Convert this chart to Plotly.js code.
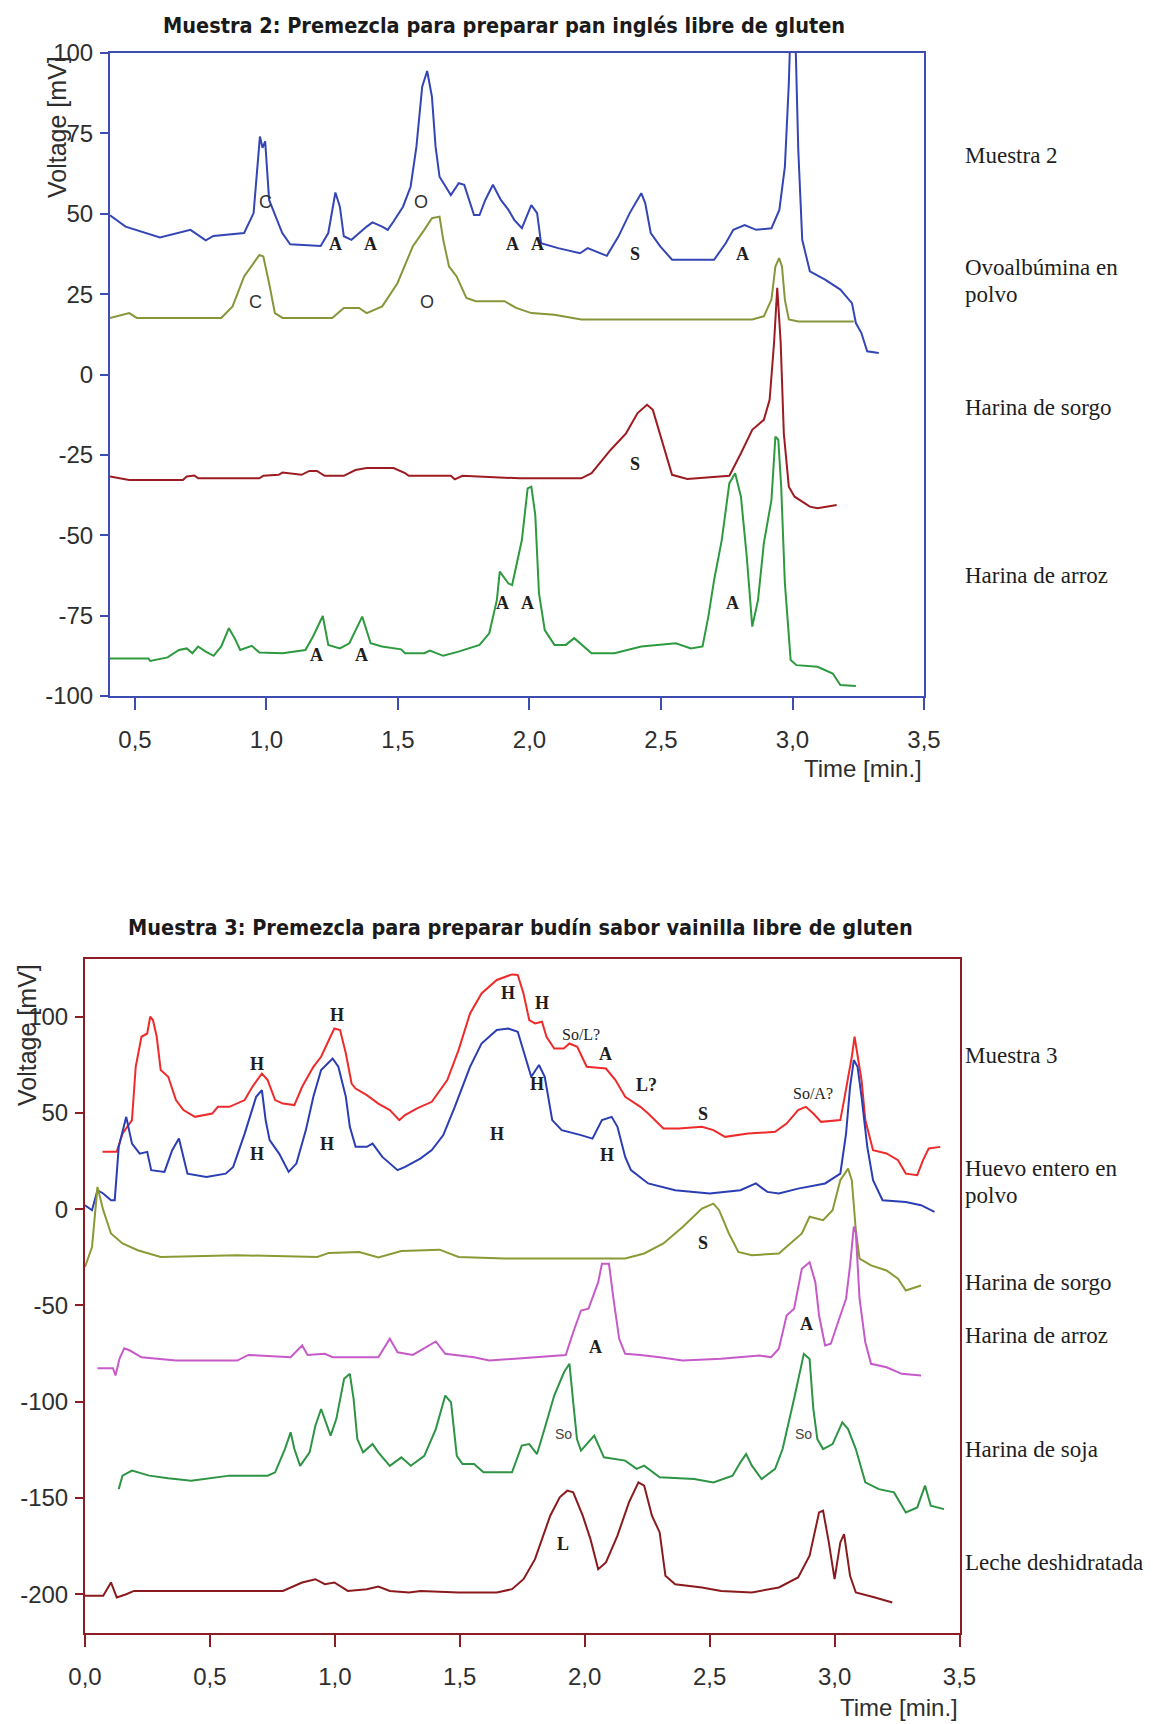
<!DOCTYPE html>
<html><head><meta charset="utf-8">
<script src="https://cdn.plot.ly/plotly-3.0.1.min.js"></script>
<style>html,body{margin:0;padding:0;background:#fff;} #chart{width:1153px;height:1724px;}</style>
</head><body><div id="chart"></div>
<script>
// ---------- Chart 1 data: Muestra 2 ----------
const m2Time = [0.405,0.464,0.595,0.667,0.711,0.769,0.798,0.915,0.951,0.975,
0.985,0.995,1.010,1.060,1.090,1.206,1.235,1.262,1.279,1.294,
1.323,1.381,1.403,1.440,1.461,1.483,1.519,1.548,1.570,1.592,
1.611,1.629,1.643,1.658,1.680,1.701,1.731,1.752,1.789,1.810,
1.832,1.861,1.891,1.920,1.942,1.971,2.007,2.029,2.044,2.109,
2.192,2.221,2.294,2.338,2.381,2.425,2.440,2.461,2.498,2.542,
2.702,2.746,2.775,2.818,2.862,2.920,2.950,2.971,2.986,2.995,
3.008,3.022,3.037,3.066,3.124,3.182,3.226,3.241,3.262,3.284,3.328];
const m2Volt = [49.5,46.0,42.6,44.0,45.0,41.7,43.1,44.0,50.2,74.0,
70.5,72.5,54.3,44.0,40.5,40.0,44.0,56.6,52.2,43.0,
41.9,46.0,47.3,46.0,45.0,47.6,52.2,58.4,70.8,89.5,
94.4,86.4,70.8,61.5,58.4,55.8,59.5,59.0,49.6,49.6,
54.3,59.0,54.3,51.2,48.1,45.5,52.7,50.2,40.8,39.3,
37.7,39.3,36.9,42.9,50.2,56.4,53.3,44.0,39.8,35.7,
35.7,40.8,45.0,46.5,45.0,45.5,51.2,64.6,90.5,115,
115,69.8,41.9,32.1,29.5,26.4,22.2,16.0,12.9,7.2,6.7];

const ovoTime = [0.405,0.478,0.507,0.828,0.871,0.915,0.973,0.988,1.010,1.032,
1.061,1.250,1.294,1.352,1.381,1.440,1.498,1.556,1.600,1.629,
1.658,1.672,1.694,1.723,1.760,1.796,1.905,1.949,2.007,2.094,
2.197,2.847,2.891,2.920,2.935,2.949,2.960,2.971,2.986,3.022,3.233];
const ovoVolt = [17.6,19.1,17.6,17.6,21.2,30.5,37.2,36.7,28.4,19.1,
17.6,17.6,20.7,20.7,19.1,21.2,28.4,39.8,45.0,48.6,
49.1,41.9,33.6,30.5,23.8,22.8,22.8,20.7,19.1,18.6,
17.1,17.1,18.1,23.3,33.6,36.2,33.6,23.3,17.1,16.5,16.5];

const sorgo1Time = [0.405,0.478,0.682,0.697,0.726,0.740,0.973,0.988,1.046,1.061,
1.133,1.163,1.192,1.221,1.294,1.338,1.381,1.483,1.527,1.541,
1.701,1.716,1.745,1.964,2.197,2.236,2.309,2.367,2.411,2.447,
2.469,2.498,2.542,2.600,2.760,2.804,2.847,2.891,2.913,2.930,
2.942,2.955,2.967,2.986,3.008,3.066,3.095,3.168];
const sorgo1Volt = [-31.7,-32.8,-32.8,-31.7,-31.4,-32.3,-32.3,-31.5,-31.2,-30.5,
-31.2,-30.0,-30.0,-31.5,-31.5,-29.7,-29.1,-29.1,-30.7,-31.5,
-31.5,-32.6,-31.5,-32.3,-32.3,-30.7,-23.4,-18.3,-12.0,-9.4,
-11.0,-19.3,-31.2,-32.5,-31.5,-24.5,-17.2,-14.1,-7.9,10,
27,10,-18.3,-34.9,-38.0,-41.1,-41.6,-40.6];

const arroz1Time = [0.405,0.551,0.558,0.624,0.667,0.697,0.718,0.740,0.769,0.799,
0.828,0.857,0.879,0.900,0.944,0.973,1.061,1.148,1.177,1.214,
1.235,1.279,1.315,1.364,1.396,1.439,1.512,1.527,1.600,1.621,
1.672,1.730,1.810,1.847,1.876,1.887,1.920,1.934,1.971,1.993,
2.007,2.022,2.036,2.058,2.095,2.138,2.170,2.236,2.323,2.425,
2.556,2.614,2.658,2.680,2.702,2.731,2.760,2.782,2.804,2.826,
2.847,2.869,2.891,2.920,2.935,2.946,2.957,2.971,2.993,3.015,
3.095,3.153,3.182,3.241];
const arroz1Volt = [-88.3,-88.3,-89.1,-88.0,-85.7,-85.2,-86.7,-84.6,-86.2,-87.5,
-84.6,-78.9,-82.0,-85.7,-84.4,-86.5,-86.7,-85.7,-81.5,-75.1,
-84.1,-85.2,-83.6,-75.3,-83.6,-84.6,-85.5,-86.7,-86.7,-85.9,
-87.5,-86.2,-84.1,-80.5,-70.1,-61.3,-65.0,-65.5,-51.5,-35.4,
-34.9,-43.7,-68.0,-79.5,-84.1,-84.1,-82.0,-86.7,-86.7,-84.6,
-83.6,-85.2,-84.6,-75.3,-63.9,-51.5,-33.8,-30.7,-38.0,-56.6,
-78.4,-70.1,-52.5,-39.0,-19.3,-20.3,-34.9,-64.9,-88.8,-90.4,
-90.9,-93.0,-96.6,-96.9];

// ---------- Chart 2 data: Muestra 3 ----------
const m3Time = [0.070,0.127,0.150,0.188,0.203,0.226,0.249,0.261,0.272,0.287,
0.303,0.333,0.364,0.394,0.440,0.509,0.532,0.578,0.639,0.670,
0.708,0.731,0.761,0.792,0.838,0.869,0.914,0.945,0.976,0.998,
1.021,1.044,1.067,1.083,1.128,1.174,1.220,1.258,1.281,1.327,
1.388,1.450,1.495,1.541,1.587,1.648,1.709,1.732,1.755,1.778,
1.801,1.829,1.847,1.878,1.916,1.939,1.970,2.008,2.085,2.123,
2.162,2.223,2.254,2.315,2.377,2.469,2.515,2.562,2.654,2.762,
2.808,2.854,2.885,2.915,2.946,3.023,3.038,3.069,3.080,3.092,
3.108,3.123,3.154,3.208,3.254,3.285,3.331,3.354,3.377,3.423];
const m3Volt = [29.8,29.8,39.3,46.3,74.0,89.6,91.3,100.0,98.3,89.6,
72.3,68.8,56.7,51.5,48.0,49.7,53.2,53.2,56.7,63.6,
70.5,67.1,56.7,54.9,54.1,63.6,74.0,79.2,87.9,93.9,
93.1,80.9,65.3,62.7,59.3,54.9,51.5,46.3,48.9,52.3,
55.8,67.1,82.7,101.7,112.1,119.1,122.0,121.7,112.1,98.3,
96.5,97.4,89.6,83.5,83.5,86.1,84.4,74.0,73.1,67.1,
58.4,53.2,49.7,41.9,41.9,42.8,41.1,37.6,39.3,40.2,
44.5,51.5,53.2,49.7,45.4,46.3,56.7,79.2,89.6,79.2,
67.1,46.3,30.7,29.0,25.5,18.5,17.7,25.5,31.6,32.4];

const huevoTime = [0.000,0.028,0.050,0.073,0.104,0.119,0.135,0.153,0.165,0.188,
0.219,0.249,0.265,0.318,0.349,0.376,0.394,0.410,0.486,0.563,
0.593,0.639,0.685,0.708,0.723,0.739,0.777,0.815,0.846,0.884,
0.914,0.945,0.991,1.014,1.044,1.060,1.083,1.128,1.151,1.190,
1.251,1.281,1.342,1.388,1.434,1.480,1.541,1.587,1.648,1.694,
1.732,1.763,1.786,1.817,1.840,1.870,1.908,1.985,2.031,2.069,
2.108,2.131,2.162,2.185,2.254,2.362,2.500,2.623,2.685,2.731,
2.777,2.854,2.962,3.023,3.046,3.062,3.077,3.092,3.108,3.131,
3.154,3.192,3.285,3.346,3.400];
const huevoVolt = [2.1,-0.5,9.9,8.2,4.7,4.7,32.4,42.8,48.0,34.1,
28.9,29.8,20.3,19.4,30.7,36.7,27.2,18.5,16.8,18.5,
22.0,39.3,58.4,61.9,46.3,35.9,28.9,19.4,23.7,41.1,
58.4,72.3,78.3,74.0,58.4,42.8,32.4,32.4,34.1,27.2,
20.3,22.0,26.3,30.7,38.5,53.2,74.0,86.1,93.1,93.9,
92.2,79.2,68.8,74.9,68.8,46.3,41.1,38.5,36.7,46.3,
48.0,42.8,27.2,20.3,13.4,9.9,8.2,9.9,13.4,9.0,
8.2,10.7,13.4,18.5,39.3,63.6,77.5,74.0,58.4,32.4,
15.1,4.7,3.8,2.1,-1.4];

const sorgo2Time = [0.000,0.028,0.050,0.073,0.104,0.150,0.211,0.303,0.609,0.930,
0.976,1.098,1.174,1.266,1.419,1.495,1.679,2.038,2.162,2.238,
2.315,2.392,2.469,2.515,2.538,2.577,2.615,2.669,2.777,2.869,
2.900,2.954,2.992,3.023,3.054,3.069,3.085,3.100,3.146,3.208,
3.254,3.285,3.346];
const sorgo2Volt = [-30.0,-19.6,11.6,-0.5,-12.6,-17.8,-21.3,-24.8,-23.9,-24.8,
-22.7,-22.2,-25.1,-21.7,-21.0,-24.8,-25.6,-25.6,-25.6,-23.0,
-17.8,-9.2,0.3,2.9,-0.5,-12.6,-22.2,-23.9,-23.0,-12.6,
-3.9,-5.7,-0.5,15.1,21.1,15.1,-10.9,-25.7,-29.2,-31.8,
-36.1,-42.2,-39.6];

const arroz2Time = [0.050,0.112,0.122,0.138,0.157,0.180,0.226,0.364,0.609,0.654,
0.823,0.869,0.891,0.960,0.991,1.174,1.220,1.251,1.312,1.404,
1.442,1.557,1.618,1.709,1.924,1.954,1.985,2.015,2.054,2.069,
2.097,2.115,2.138,2.162,2.223,2.300,2.392,2.546,2.700,2.746,
2.777,2.808,2.838,2.869,2.900,2.923,2.938,2.962,2.985,3.023,
3.046,3.062,3.077,3.085,3.100,3.123,3.146,3.208,3.269,3.346];
const arroz2Volt = [-82.6,-82.6,-86.4,-77.7,-72.2,-73.4,-76.9,-78.6,-78.6,-75.7,
-76.9,-70.8,-75.7,-75.1,-76.9,-76.9,-67.3,-74.3,-75.7,-68.7,
-75.1,-76.9,-78.6,-77.7,-75.7,-63.9,-52.6,-51.7,-37.9,-28.3,
-28.3,-46.5,-67.3,-75.1,-75.7,-76.9,-78.6,-77.7,-76.0,-76.9,
-72.5,-55.2,-51.7,-30.9,-27.5,-37.9,-55.2,-70.8,-69.9,-55.2,
-46.5,-29.2,-9.0,-12.0,-46.5,-69.1,-80.3,-82.1,-85.5,-86.4];

const sojaTime = [0.135,0.150,0.188,0.257,0.333,0.425,0.578,0.731,0.761,0.800,
0.823,0.838,0.861,0.899,0.922,0.945,0.983,1.006,1.037,1.060,
1.075,1.090,1.113,1.151,1.174,1.220,1.266,1.304,1.358,1.404,
1.442,1.465,1.488,1.511,1.557,1.595,1.709,1.748,1.778,1.809,
1.839,1.878,1.917,1.939,1.954,1.969,1.985,2.038,2.077,2.162,
2.208,2.238,2.300,2.438,2.515,2.592,2.623,2.646,2.669,2.708,
2.762,2.792,2.838,2.877,2.900,2.915,2.931,2.954,2.992,3.031,
3.054,3.085,3.123,3.177,3.238,3.285,3.331,3.362,3.385,3.438];
const sojaVolt = [-145.4,-138.4,-135.8,-138.4,-139.8,-141.0,-138.4,-138.4,-136.7,-124.6,
-115.9,-124.6,-133.3,-126.3,-112.5,-103.8,-117.6,-108.9,-88.1,-85.5,
-98.5,-119.4,-126.3,-122.0,-126.3,-133.3,-128.9,-133.3,-128.1,-114.2,
-96.8,-100.3,-128.1,-132.4,-132.4,-136.7,-136.7,-122.8,-122.0,-127.2,
-114.2,-96.8,-84.7,-80.3,-100.3,-119.4,-125.4,-117.6,-128.9,-130.6,
-134.9,-133.2,-139.3,-140.2,-141.9,-138.4,-131.5,-127.2,-133.2,-140.2,
-134.9,-124.6,-98.5,-75.1,-77.8,-103.7,-119.4,-124.6,-122.0,-110.7,
-114.2,-124.6,-141.9,-145.4,-147.1,-157.5,-154.9,-143.6,-154.0,-155.8];

const lecheTime = [0.000,0.073,0.104,0.127,0.165,0.196,0.792,0.869,0.922,0.960,
0.998,1.052,1.128,1.174,1.220,1.297,1.343,1.495,1.648,1.709,
1.755,1.801,1.862,1.900,1.930,1.954,1.992,2.023,2.054,2.085,
2.131,2.177,2.215,2.238,2.269,2.300,2.323,2.362,2.469,2.546,
2.669,2.777,2.854,2.900,2.938,2.954,2.977,3.000,3.023,3.038,
3.062,3.085,3.162,3.231];
const lecheVolt = [-200.8,-200.8,-193.9,-201.7,-200.0,-198.3,-198.3,-193.9,-192.2,-194.8,
-193.9,-198.3,-197.4,-196.0,-198.3,-199.1,-198.3,-199.1,-199.1,-197.4,
-192.2,-181.8,-159.2,-149.7,-146.2,-147.1,-159.2,-171.4,-187.0,-183.5,
-169.6,-152.3,-141.9,-143.6,-159.2,-167.9,-190.4,-194.8,-196.5,-198.3,
-199.1,-196.5,-191.3,-180.0,-157.5,-156.6,-173.1,-192.2,-173.1,-168.8,
-190.4,-199.1,-201.7,-204.3];

// ---------- Ticks and labels ----------
const xTicks1 = [0.5,1.0,1.5,2.0,2.5,3.0,3.5];
const xTickText1 = ['0,5','1,0','1,5','2,0','2,5','3,0','3,5'];
const yTicks1 = [100,75,50,25,0,-25,-50,-75,-100];
const yTickText1 = ['100','75','50','25','0','-25','-50','-75','-100'];
const xTicks2 = [0.0,0.5,1.0,1.5,2.0,2.5,3.0,3.5];
const xTickText2 = ['0,0','0,5','1,0','1,5','2,0','2,5','3,0','3,5'];
const yTicks2 = [100,50,0,-50,-100,-150,-200];
const yTickText2 = ['100','50','0','-50','-100','-150','-200'];

const title1 = 'Muestra 2: Premezcla para preparar pan inglés libre de gluten';
const title2 = 'Muestra 3: Premezcla para preparar budín sabor vainilla libre de gluten';
const seriesNames1 = ['Muestra 2','Ovoalbúmina en','polvo','Harina de sorgo','Harina de arroz'];
const seriesNames2 = ['Muestra 3','Huevo entero en','polvo','Harina de sorgo','Harina de arroz','Harina de soja','Leche deshidratada'];

const peak1Text = ['C','A','A','O','A','A','S','A','C','O','S','A','A','A','A','A'];
const peak1Time = [0.995,1.264,1.395,1.589,1.934,2.029,2.403,2.811,0.958,1.611,2.403,1.191,1.363,1.898,1.992,2.772];
const peak1Volt = [53.7,40.7,40.7,53.7,40.7,40.7,37.6,37.6,22.6,22.6,-27.7,-87.3,-87.3,-71.2,-71.2,-71.2];

const peak2Text = ['H','H','H','H','So/L?','A','L?','S','So/A?','H','H','H','H','H','S','A','A','So','So','L'];
const peak2Time = [0.688,1.009,1.691,1.829,1.985,2.085,2.246,2.472,2.912,0.688,0.968,1.648,1.810,2.088,2.472,2.042,2.888,1.915,2.877,1.915];
const peak2Volt = [75.7,100.9,112.1,106.9,91.0,80.9,64.5,49.7,60.1,28.9,34.1,39.3,65.3,28.1,-17.8,-71.7,-59.5,-116.8,-116.8,-174.0];

// ---------- Layout geometry (pixels) ----------
const W = 1153, H = 1724;
const px = v => v / W, py = v => 1 - v / H;
const blueFrame = '#3d4db0', redFrame = '#8c1d24';
const sansTick = {family: '"Liberation Sans", Arial, sans-serif', size: 24, color: '#2e2e2e'};
const serifLab = {family: '"Liberation Serif", "Times New Roman", serif', size: 23, color: '#1e1e1e'};
const titleFont = {family: '"Liberation Sans Narrow", "DejaVu Sans Condensed", "Arial Narrow", sans-serif', size: 21.5, color: '#1a1a1a', weight: 'bold'};
const peakSerif = {family: '"Liberation Serif", "Times New Roman", serif', size: 18, color: '#1e1e1e', weight: 'bold'};
const peakSans = {family: '"Liberation Sans", Arial, sans-serif', size: 18, color: '#333'};
const peakSmall = {family: '"Liberation Sans", Arial, sans-serif', size: 14, color: '#444'};

function line(x, y, color, xa, ya) {
  return {x: x, y: y, type: 'scatter', mode: 'lines', xaxis: xa, yaxis: ya,
          line: {color: color, width: 2}, hoverinfo: 'skip'};
}
const data = [
  line(m2Time, m2Volt, '#3445b5', 'x', 'y'),
  line(ovoTime, ovoVolt, '#87963a', 'x', 'y'),
  line(sorgo1Time, sorgo1Volt, '#9c1c22', 'x', 'y'),
  line(arroz1Time, arroz1Volt, '#2e9a40', 'x', 'y'),
  line(m3Time, m3Volt, '#ee2b2b', 'x2', 'y2'),
  line(huevoTime, huevoVolt, '#2b3db3', 'x2', 'y2'),
  line(sorgo2Time, sorgo2Volt, '#8a9a35', 'x2', 'y2'),
  line(arroz2Time, arroz2Volt, '#c65ac8', 'x2', 'y2'),
  line(sojaTime, sojaVolt, '#2e9445', 'x2', 'y2'),
  line(lecheTime, lecheVolt, '#8b1a1e', 'x2', 'y2')
];

function xAxis(dom, range, tv, tt, col, anchor) {
  return {domain: dom, range: range, anchor: anchor, tickmode: 'array', tickvals: tv, ticktext: tt,
    ticks: 'outside', ticklen: 12, tickwidth: 2, tickcolor: col, showline: true, linecolor: col,
    linewidth: 2, mirror: true, showgrid: false, zeroline: false, tickfont: sansTick,
    ticklabelstandoff: 9, fixedrange: true};
}
function yAxis(dom, range, tv, tt, col, anchor) {
  return {domain: dom, range: range, anchor: anchor, tickmode: 'array', tickvals: tv, ticktext: tt,
    ticks: 'outside', ticklen: 8, tickwidth: 2, tickcolor: col, showline: true, linecolor: col,
    linewidth: 2, mirror: true, showgrid: false, zeroline: false, tickfont: sansTick,
    ticklabelstandoff: 2, fixedrange: true};
}

const ann = [];
function paperText(text, x, y, font, xanchor, extra) {
  ann.push(Object.assign({text: text, xref: 'paper', yref: 'paper', x: x, y: y, xanchor: xanchor || 'center',
    yanchor: 'middle', showarrow: false, font: font}, extra || {}));
}
paperText(title1, px(504), py(26), titleFont);
paperText(title2, px(520), py(927), titleFont);
paperText('Voltage [mV]', px(57), py(127), Object.assign({}, sansTick, {size: 25}), 'center', {textangle: -90});
paperText('Voltage [mV]', px(27), py(1035), Object.assign({}, sansTick, {size: 25}), 'center', {textangle: -90});
paperText('Time [min.]', px(924), py(768), Object.assign({}, sansTick, {size: 24}), 'right');
paperText('Time [min.]', px(960), py(1707), Object.assign({}, sansTick, {size: 24}), 'right');

const rightY1 = [155, 268, 295, 407, 575];
seriesNames1.forEach((t, i) => paperText(t, px(963), py(rightY1[i]), serifLab, 'left'));
const rightY2 = [1055, 1168, 1195, 1282, 1335, 1449, 1562];
seriesNames2.forEach((t, i) => paperText(t, px(963), py(rightY2[i]), serifLab, 'left'));

peak1Text.forEach((t, i) => {
  const f = (t === 'C' || t === 'O') ? peakSans : peakSerif;
  ann.push({text: t, xref: 'x', yref: 'y', x: peak1Time[i], y: peak1Volt[i], showarrow: false, font: f});
});
peak2Text.forEach((t, i) => {
  let f = peakSerif;
  if (t === 'So') f = peakSmall;
  else if (t.indexOf('/') >= 0) f = Object.assign({}, peakSerif, {size: 16, weight: 'normal'});
  ann.push({text: t, xref: 'x2', yref: 'y2', x: peak2Time[i], y: peak2Volt[i], showarrow: false, font: f});
});

const layout = {
  width: W, height: H, margin: {l: 0, r: 0, t: 0, b: 0, pad: 0},
  paper_bgcolor: '#ffffff', plot_bgcolor: '#ffffff', showlegend: false,
  separators: ',.',
  xaxis: xAxis([px(110), px(924)], [0.405, 3.5], xTicks1, xTickText1, blueFrame, 'y'),
  yaxis: yAxis([py(696), py(53)], [-100, 100], yTicks1, yTickText1, blueFrame, 'x'),
  xaxis2: xAxis([px(85), px(959.5)], [0, 3.5], xTicks2, xTickText2, redFrame, 'y2'),
  yaxis2: yAxis([py(1632.7), py(959)], [-220, 130], yTicks2, yTickText2, redFrame, 'x2'),
  annotations: ann
};
Plotly.newPlot('chart', data, layout, {displayModeBar: false, staticPlot: true});
</script></body></html>
